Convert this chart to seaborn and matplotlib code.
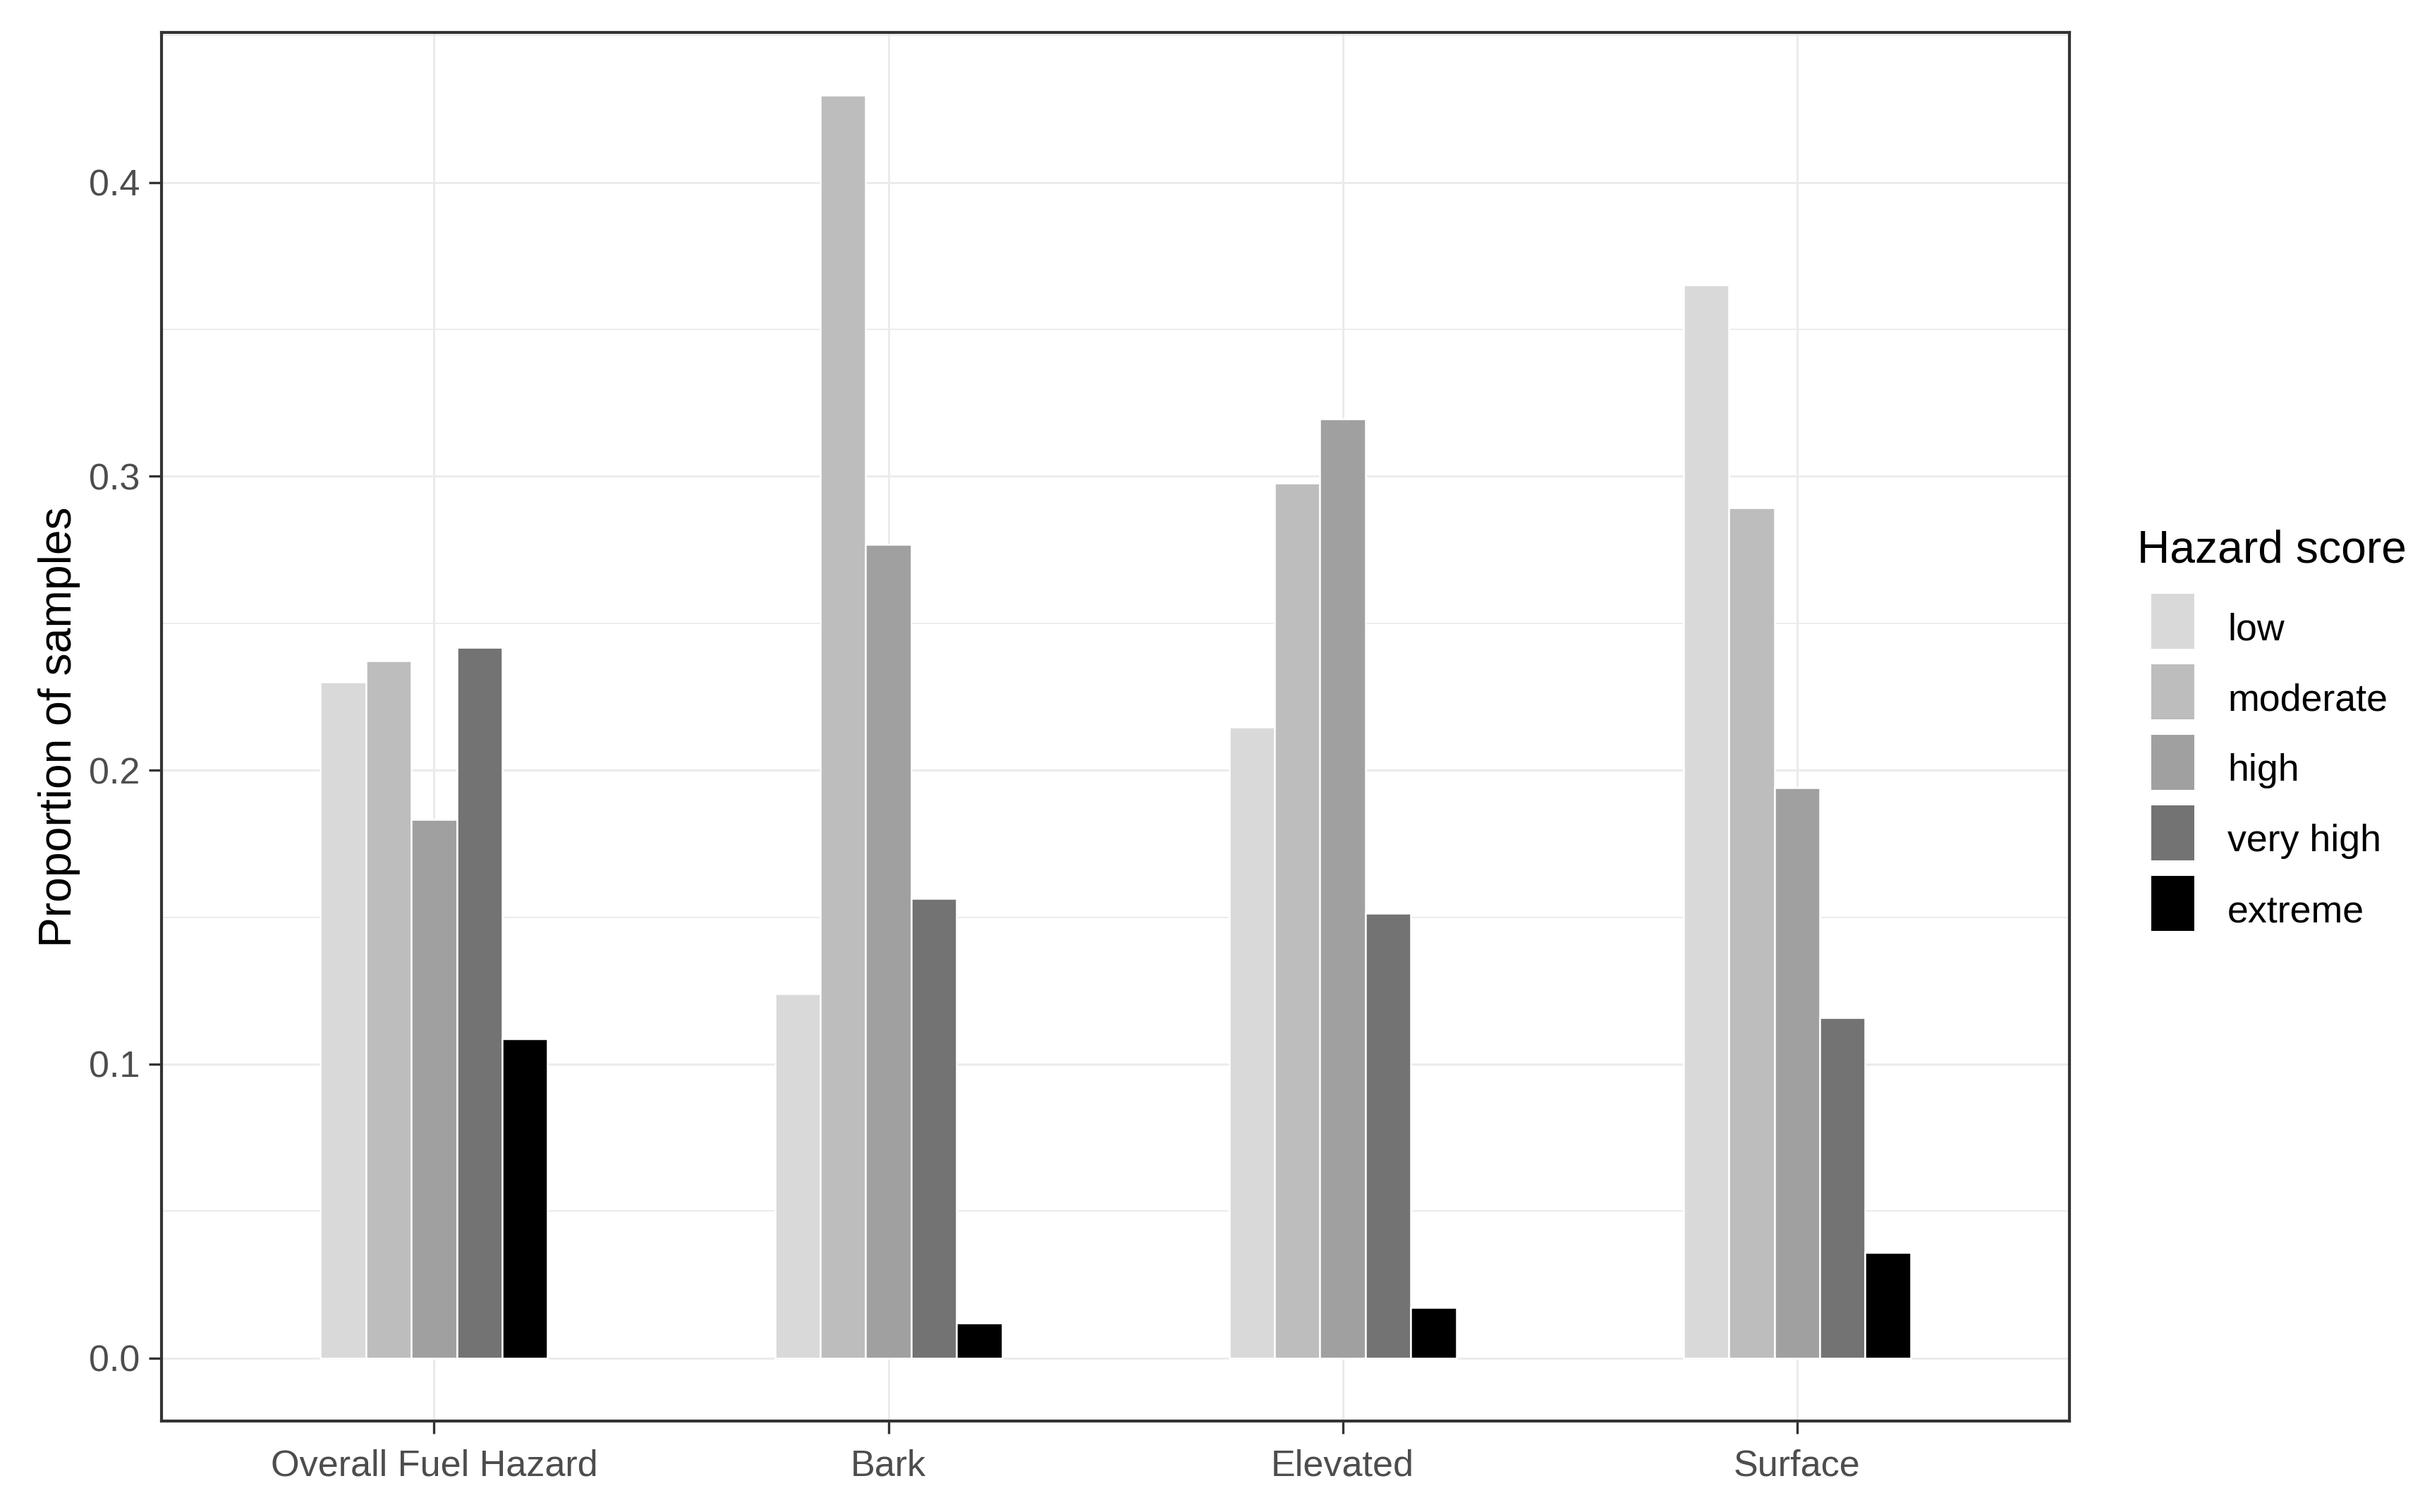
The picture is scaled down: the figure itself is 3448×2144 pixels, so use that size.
import numpy as np
import pandas as pd
import matplotlib
matplotlib.use("Agg")
import matplotlib.pyplot as plt
import seaborn as sns
from matplotlib.ticker import MultipleLocator
from matplotlib.patches import Rectangle
from matplotlib.legend_handler import HandlerPatch

# dados
componentes = ["Overall Fuel Hazard", "Bark", "Elevated", "Surface"]
niveis = ["low", "moderate", "high", "very high", "extreme"]
cores = ["#D9D9D9", "#BDBDBD", "#A0A0A0", "#737373", "#000000"]

prop_low = [0.2301, 0.1240, 0.2147, 0.3651]
prop_moderate = [0.2373, 0.4296, 0.2977, 0.2893]
prop_high = [0.1833, 0.2768, 0.3195, 0.1940]
prop_very_high = [0.2417, 0.1563, 0.1513, 0.1159]
prop_extreme = [0.1086, 0.0119, 0.0171, 0.0360]

valores = [prop_low, prop_moderate, prop_high, prop_very_high, prop_extreme]
linhas = []
for nivel, serie in zip(niveis, valores):
    for comp, v in zip(componentes, serie):
        linhas.append({"Componente": comp, "Hazard score": nivel, "Proporcao": v})
df = pd.DataFrame(linhas)

sns.set_theme(style="white")
plt.rcParams["font.family"] = ["Liberation Sans", "DejaVu Sans"]

W, H = 3448, 2144
fig = plt.figure(figsize=(W / 300, H / 300), dpi=300)
ax = fig.add_axes([0.0664, 0.060, 0.851 - 0.0664, 0.9785 - 0.060])

sns.barplot(data=df, x="Componente", y="Proporcao", hue="Hazard score",
            order=componentes, hue_order=niveis, palette=cores,
            width=0.5, edgecolor="white", linewidth=0.6, saturation=1,
            ax=ax, zorder=3)

ax.set_xlim(-0.6, 3.6)
ax.set_ylim(-0.0215, 0.451)
ax.yaxis.set_minor_locator(MultipleLocator(0.05))
ax.set_yticks([0.0, 0.1, 0.2, 0.3, 0.4])
ax.set_yticklabels(["0.0", "0.1", "0.2", "0.3", "0.4"])

ax.grid(True, which="major", color="#EBEBEB", linewidth=0.7, zorder=0)
ax.grid(True, which="minor", axis="y", color="#EBEBEB", linewidth=0.45, zorder=0)
ax.set_axisbelow(True)

for s in ax.spines.values():
    s.set_color("#333333")
    s.set_linewidth(1.0)

ax.tick_params(axis="both", which="major", length=4.3, width=0.8, color="#333333",
               labelsize=12.5, labelcolor="#4D4D4D", direction="out",
               bottom=True, left=True)
ax.tick_params(axis="x", which="major", pad=5)
ax.tick_params(axis="y", which="major", pad=3)
ax.tick_params(axis="y", which="minor", length=0, left=False)

ax.set_xlabel("")
ax.set_ylabel("Proportion of samples", fontsize=15.4, color="black", labelpad=3)

# legenda (chaves 61x78 px, passo 100 px)
px = 72 / 300
chave_w, chave_h = 61 * px, 78 * px


def caixa(legend, orig_handle, xdescent, ydescent, width, height, fontsize):
    return Rectangle((-xdescent, -13 * px), chave_w, chave_h)


ax.legend_.remove()
fig.text(3030 / W, 1 - 798 / H, "Hazard score", fontsize=15.4, color="black",
         ha="left", va="baseline")
handles = [Rectangle((0, 0), 1, 1, facecolor=c, edgecolor="none") for c in cores]
leg = fig.legend(handles, niveis, loc="upper left",
                 bbox_to_anchor=(3050 / W, 1 - 851 / H), frameon=False,
                 fontsize=12.9, handlelength=chave_w / 12.9, handleheight=1.86,
                 labelspacing=0.406, handletextpad=0.875,
                 borderpad=0, borderaxespad=0,
                 handler_map={Rectangle: HandlerPatch(patch_func=caixa)})
for t in leg.get_texts():
    t.set_color("black")

fig.savefig("out.png", dpi=300, facecolor="white")
